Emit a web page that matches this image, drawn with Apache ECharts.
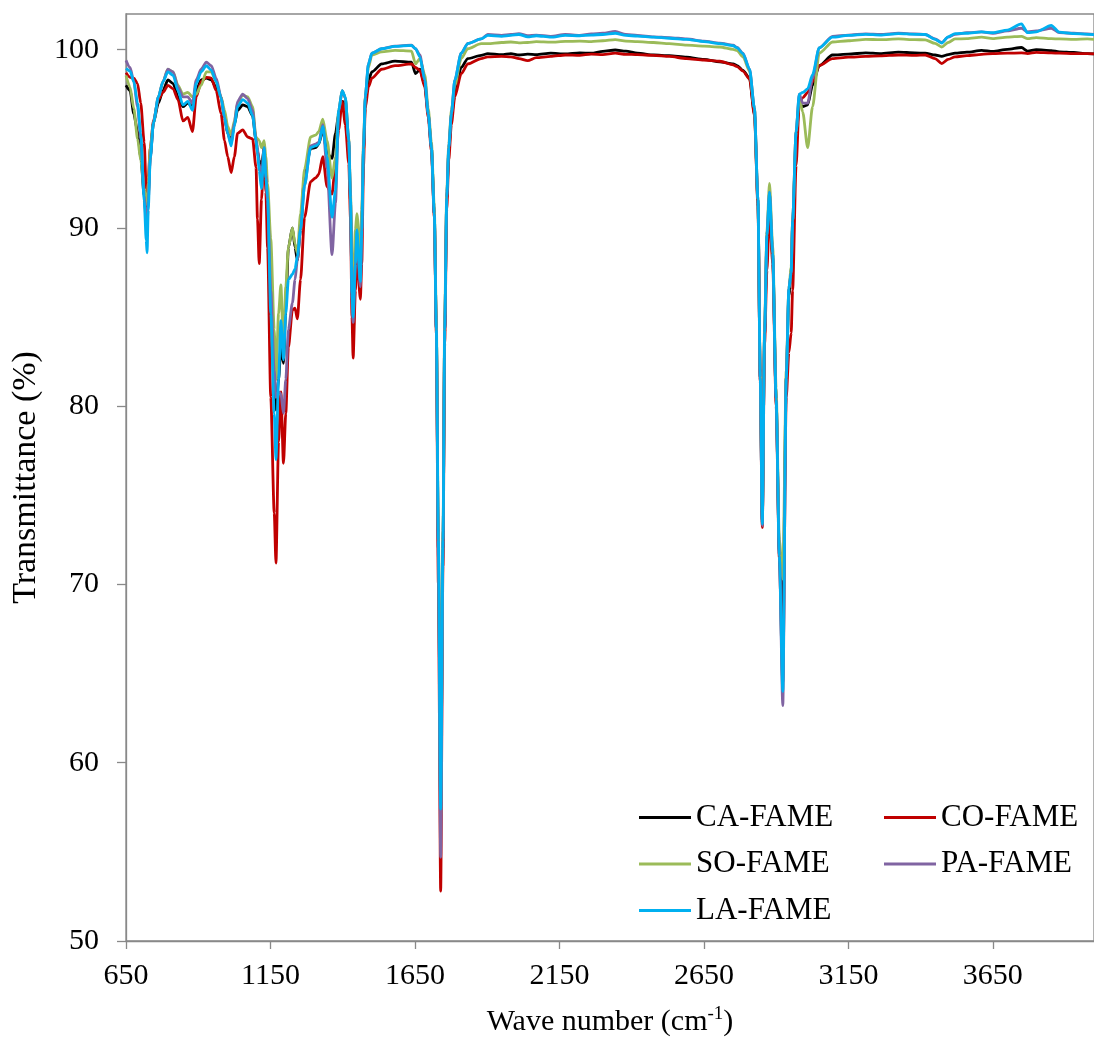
<!DOCTYPE html>
<html>
<head>
<meta charset="utf-8">
<script src="https://cdn.jsdelivr.net/npm/echarts@6/dist/echarts.min.js"></script>
<style>
html,body{margin:0;padding:0;background:#fff;}
#chart{width:1094px;height:1042px;}
</style>
</head>
<body>
<div id="chart"></div>
<script>
const seriesNames = ['CA-FAME', 'CO-FAME', 'SO-FAME', 'PA-FAME', 'LA-FAME'];
const xTickValues = [650, 1150, 1650, 2150, 2650, 3150, 3650];
const yTickValues = [50, 60, 70, 80, 90, 100];

const waveNumbers = [650,664,677,690,701,713,720,723,727,734,745,762,778,795,813,830,847,864,880,893,910,928,945,962,979,991,1002,1014,1025,1036,1054,1071,1088,1100,1105,1111,1119,1128,1134,1140,1151,1163,1169,1178,1186,1195,1203,1212,1226,1235,1243,1254,1268,1289,1306,1317,1331,1346,1363,1375,1386,1398,1409,1421,1427,1432,1436,1444,1449,1461,1466,1472,1478,1489,1501,1535,1581,1638,1652,1667,1684,1696,1707,1717,1724,1731,1739,1747,1753,1760,1767,1776,1788,1810,1833,1879,1902,1950,1982,2010,2040,2070,2120,2170,2220,2260,2300,2343,2380,2420,2476,2530,2590,2650,2705,2751,2765,2785,2808,2825,2837,2845,2852,2860,2868,2877,2888,2900,2911,2923,2935,2944,2952,2957,2969,2980,2992,3009,3026,3049,3095,3150,3210,3260,3323,3380,3416,3450,3473,3495,3519,3560,3611,3650,3700,3749,3770,3800,3852,3880,3930,3977,4000];

const caFame = [98.0,97.7,96.4,95.4,94.0,91.8,90.6,90.5,91.8,94.0,95.9,97.0,97.7,98.3,98.1,97.35,96.8,97.0,96.8,97.7,98.3,98.4,98.3,97.9,97.35,96.2,95.3,94.9,95.8,96.6,96.9,96.8,96.3,94.9,94.3,93.8,93.4,94.5,93.0,91.5,86.0,81.0,79.8,81.5,83.3,82.4,85.5,88.9,90.0,88.9,88.2,89.9,93.0,94.45,94.5,94.7,95.5,94.2,93.9,95.3,96.4,97.1,97.0,94.7,91.5,86.5,84.0,87.5,89.0,87.7,90.5,94.3,97.0,98.3,98.75,99.2,99.36,99.3,98.65,98.9,98.0,96.4,94.5,90.8,84.3,72.0,57.5,72.0,84.3,91.6,94.3,96.2,97.6,99.0,99.5,99.68,99.78,99.72,99.78,99.70,99.75,99.72,99.80,99.76,99.82,99.80,99.90,99.98,99.92,99.80,99.70,99.66,99.58,99.45,99.32,99.20,99.10,98.84,98.4,96.4,91.4,81.6,73.5,84.0,89.3,91.5,88.4,80.4,71.8,67.6,81.6,86.2,87.5,90.2,95.0,97.0,96.8,96.9,98.0,99.1,99.7,99.75,99.82,99.78,99.86,99.82,99.80,99.70,99.62,99.72,99.80,99.86,99.96,99.90,100.02,100.12,99.92,100.0,99.95,99.88,99.84,99.78,99.76];

const coFame = [98.7,98.45,98.4,98.1,97.0,94.8,92.2,91.8,92.8,94.5,96.0,97.2,97.6,98.0,97.8,97.2,96.0,96.2,95.4,97.35,98.2,98.45,98.4,97.7,96.4,94.9,94.0,93.1,94.0,95.3,95.5,95.1,95.0,93.4,90.5,88.0,91.6,94.7,92.0,88.9,80.5,74.0,71.2,78.0,80.8,76.8,79.6,83.3,85.4,85.5,84.9,87.1,90.6,92.6,92.8,93.0,94.0,92.3,91.9,93.6,95.5,97.1,95.8,93.6,90.5,85.0,82.7,86.5,88.5,86.0,88.0,93.5,96.7,97.9,98.4,98.9,99.1,99.2,99.0,98.84,97.9,96.2,94.3,90.6,84.0,70.0,52.8,71.0,83.5,91.0,93.8,95.8,97.35,98.65,99.2,99.5,99.59,99.62,99.60,99.50,99.38,99.55,99.62,99.70,99.68,99.75,99.72,99.80,99.74,99.72,99.68,99.62,99.50,99.42,99.35,99.15,99.05,98.80,98.35,96.3,91.2,81.4,73.2,83.5,87.6,91.0,88.0,80.0,71.4,64.5,80.5,83.0,84.1,86.5,93.5,97.0,97.3,97.6,98.2,99.1,99.5,99.58,99.62,99.65,99.70,99.68,99.70,99.50,99.22,99.45,99.60,99.66,99.74,99.78,99.80,99.82,99.78,99.85,99.82,99.80,99.78,99.78,99.76];

const soFame = [98.55,97.9,96.7,95.0,93.8,92.2,91.4,91.3,92.5,94.5,95.9,97.35,98.2,98.9,98.75,98.0,97.5,97.6,97.35,97.5,98.0,98.75,98.75,98.2,97.35,96.6,95.7,95.2,96.0,97.0,97.45,97.35,96.8,95.1,95.0,94.9,94.5,94.9,94.0,92.5,89.4,84.3,81.5,85.2,86.8,83.3,86.7,88.9,90.0,89.1,88.6,90.8,93.3,95.1,95.2,95.4,96.1,94.9,92.8,94.0,96.6,97.7,97.3,95.0,92.0,88.0,86.5,89.9,90.8,88.7,91.0,94.8,97.4,99.0,99.7,99.87,99.96,99.92,99.2,99.5,98.6,96.7,94.8,91.2,85.0,73.0,57.0,73.0,85.0,92.0,94.7,96.6,98.0,99.5,100.05,100.34,100.34,100.40,100.43,100.38,100.40,100.45,100.42,100.46,100.48,100.45,100.50,100.56,100.48,100.45,100.40,100.34,100.25,100.20,100.15,100.02,99.95,99.6,98.8,96.7,91.6,82.0,74.0,84.5,89.8,92.5,89.0,81.0,72.5,70.3,82.0,86.6,87.8,90.4,95.4,97.3,96.5,94.5,96.8,99.8,100.43,100.5,100.58,100.56,100.60,100.56,100.55,100.35,100.15,100.40,100.60,100.62,100.70,100.62,100.70,100.75,100.62,100.68,100.62,100.60,100.58,100.6,100.58];

const paFame = [99.4,99.0,98.2,96.8,95.0,91.8,90.2,90.0,91.5,93.9,95.9,97.35,98.2,98.9,98.75,97.9,97.35,97.35,97.0,98.3,98.9,99.3,99.1,98.4,97.35,96.2,95.3,94.7,95.9,97.1,97.5,97.25,96.6,95.0,94.5,93.6,92.8,94.5,93.0,91.5,86.5,82.0,80.5,80.8,80.7,79.6,81.5,84.3,85.8,87.1,88.2,89.9,92.4,94.6,94.7,94.8,95.8,93.3,88.5,91.4,96.5,97.7,97.3,94.9,91.7,86.0,84.7,88.0,89.5,86.7,89.5,94.5,97.35,99.2,99.8,100.05,100.2,100.25,100.05,99.7,98.3,96.4,94.5,90.8,84.3,71.5,54.7,72.0,84.3,91.7,94.5,96.4,98.3,99.8,100.35,100.6,100.85,100.80,100.85,100.90,100.78,100.82,100.75,100.85,100.80,100.88,100.92,101.02,100.85,100.80,100.72,100.68,100.60,100.48,100.36,100.25,100.12,99.8,98.9,96.7,91.6,81.6,73.3,84.1,89.6,92.0,88.6,80.4,71.6,63.2,81.6,86.6,87.5,90.4,95.4,97.5,97.0,97.0,98.4,100.1,100.75,100.82,100.88,100.85,100.92,100.88,100.85,100.60,100.40,100.70,100.86,100.95,101.00,100.92,101.05,101.2,101.0,101.05,101.2,100.95,100.92,100.88,100.86];

const laFame = [98.95,98.8,98.2,97.0,95.3,91.5,89.3,88.6,91.0,93.9,95.9,97.35,98.2,98.75,98.56,97.7,96.9,97.1,96.6,98.1,98.75,99.1,98.85,98.2,97.3,96.2,95.3,94.6,95.7,96.8,97.2,97.0,96.3,94.9,94.2,93.2,92.2,94.5,92.8,91.7,85.2,79.6,77.0,81.5,84.8,82.6,85.2,87.1,87.4,87.7,88.4,89.9,92.4,94.5,94.6,94.7,95.7,94.0,90.6,92.1,96.6,97.7,97.35,94.9,91.7,86.3,85.0,88.0,89.9,87.0,89.9,94.5,97.35,99.2,99.8,100.05,100.18,100.24,100.05,99.6,98.3,96.4,94.5,90.8,84.3,72.5,57.4,72.5,84.3,91.7,94.5,96.4,98.3,99.8,100.34,100.6,100.8,100.75,100.8,100.85,100.72,100.78,100.70,100.80,100.78,100.82,100.85,100.92,100.80,100.76,100.70,100.64,100.58,100.45,100.34,100.22,100.10,99.78,98.9,96.7,91.6,81.6,73.4,84.1,89.6,92.0,88.6,80.4,71.6,64.0,81.6,86.6,87.5,90.4,95.4,97.5,97.6,97.8,98.6,100.1,100.7,100.8,100.86,100.82,100.9,100.86,100.85,100.58,100.37,100.72,100.9,100.92,101.0,100.95,101.1,101.45,100.95,101.0,101.36,100.98,100.9,100.86,100.84];

const seriesValues = [caFame, coFame, soFame, paFame, laFame];
const seriesColors = ['#000000', '#C00000', '#9BBB59', '#8064A2', '#00B0F0'];

const FONT = '"Liberation Serif", "Times New Roman", serif';
const AXIS_COLOR = '#898989';

const chart = echarts.init(document.getElementById('chart'), null, {renderer: 'canvas'});

const series = seriesNames.map((name, k) => ({
  name: name,
  type: 'line',
  showSymbol: false,
  symbol: 'none',
  smooth: 0.25,
  smoothMonotone: 'x',
  animation: false,
  lineStyle: {width: 2.8, color: seriesColors[k]},
  itemStyle: {color: seriesColors[k]},
  data: waveNumbers.map((w, i) => [w, seriesValues[k][i]])
}));

const legendText = {fontFamily: FONT, fontSize: 31, color: '#000', lineHeight: 31};

chart.setOption({
  animation: false,
  backgroundColor: '#fff',
  grid: {
    left: 126, top: 14, width: 974, height: 928,
    show: true, borderColor: AXIS_COLOR, borderWidth: 1.3, containLabel: false
  },
  legend: [
    {
      data: ['CA-FAME', 'SO-FAME', 'LA-FAME'],
      orient: 'vertical', left: 634, top: 797,
      icon: 'rect', itemWidth: 52, itemHeight: 3, itemGap: 15.5,
      textStyle: legendText
    },
    {
      data: ['CO-FAME', 'PA-FAME'],
      orient: 'vertical', left: 879, top: 797,
      icon: 'rect', itemWidth: 52, itemHeight: 3, itemGap: 15.5,
      textStyle: legendText
    }
  ],
  xAxis: {
    type: 'value', min: 650, max: 4000, interval: 500,
    name: '{a|Wave number (cm}{s|-1}{a|)}',
    nameLocation: 'middle', nameGap: 62,
    nameTextStyle: {
      fontFamily: FONT, fontSize: 30, color: '#000',
      rich: {
        a: {fontFamily: FONT, fontSize: 30, color: '#000', lineHeight: 34, verticalAlign: 'bottom'},
        s: {fontFamily: FONT, fontSize: 19, color: '#000', lineHeight: 34, verticalAlign: 'top', padding: [2, 0, 0, 0]}
      }
    },
    axisLine: {show: true, lineStyle: {color: AXIS_COLOR, width: 1.3}},
    axisTick: {show: true, length: 8, inside: false, lineStyle: {color: AXIS_COLOR, width: 1.3}, customValues: xTickValues},
    axisLabel: {fontFamily: FONT, fontSize: 30, color: '#000', margin: 20, customValues: xTickValues, formatter: v => String(v)},
    splitLine: {show: false}
  },
  yAxis: {
    type: 'value', min: 50, max: 102, interval: 10,
    name: 'Transmittance (%)',
    nameLocation: 'middle', nameGap: 80, nameRotate: 90,
    nameTextStyle: {fontFamily: FONT, fontSize: 34, color: '#000'},
    axisLine: {show: true, lineStyle: {color: AXIS_COLOR, width: 1.3}},
    axisTick: {show: true, length: 9, inside: false, lineStyle: {color: AXIS_COLOR, width: 1.3}, customValues: yTickValues},
    axisLabel: {fontFamily: FONT, fontSize: 30, color: '#000', margin: 27, customValues: yTickValues, formatter: v => String(v)},
    splitLine: {show: false}
  },
  series: series
});
</script>
</body>
</html>
